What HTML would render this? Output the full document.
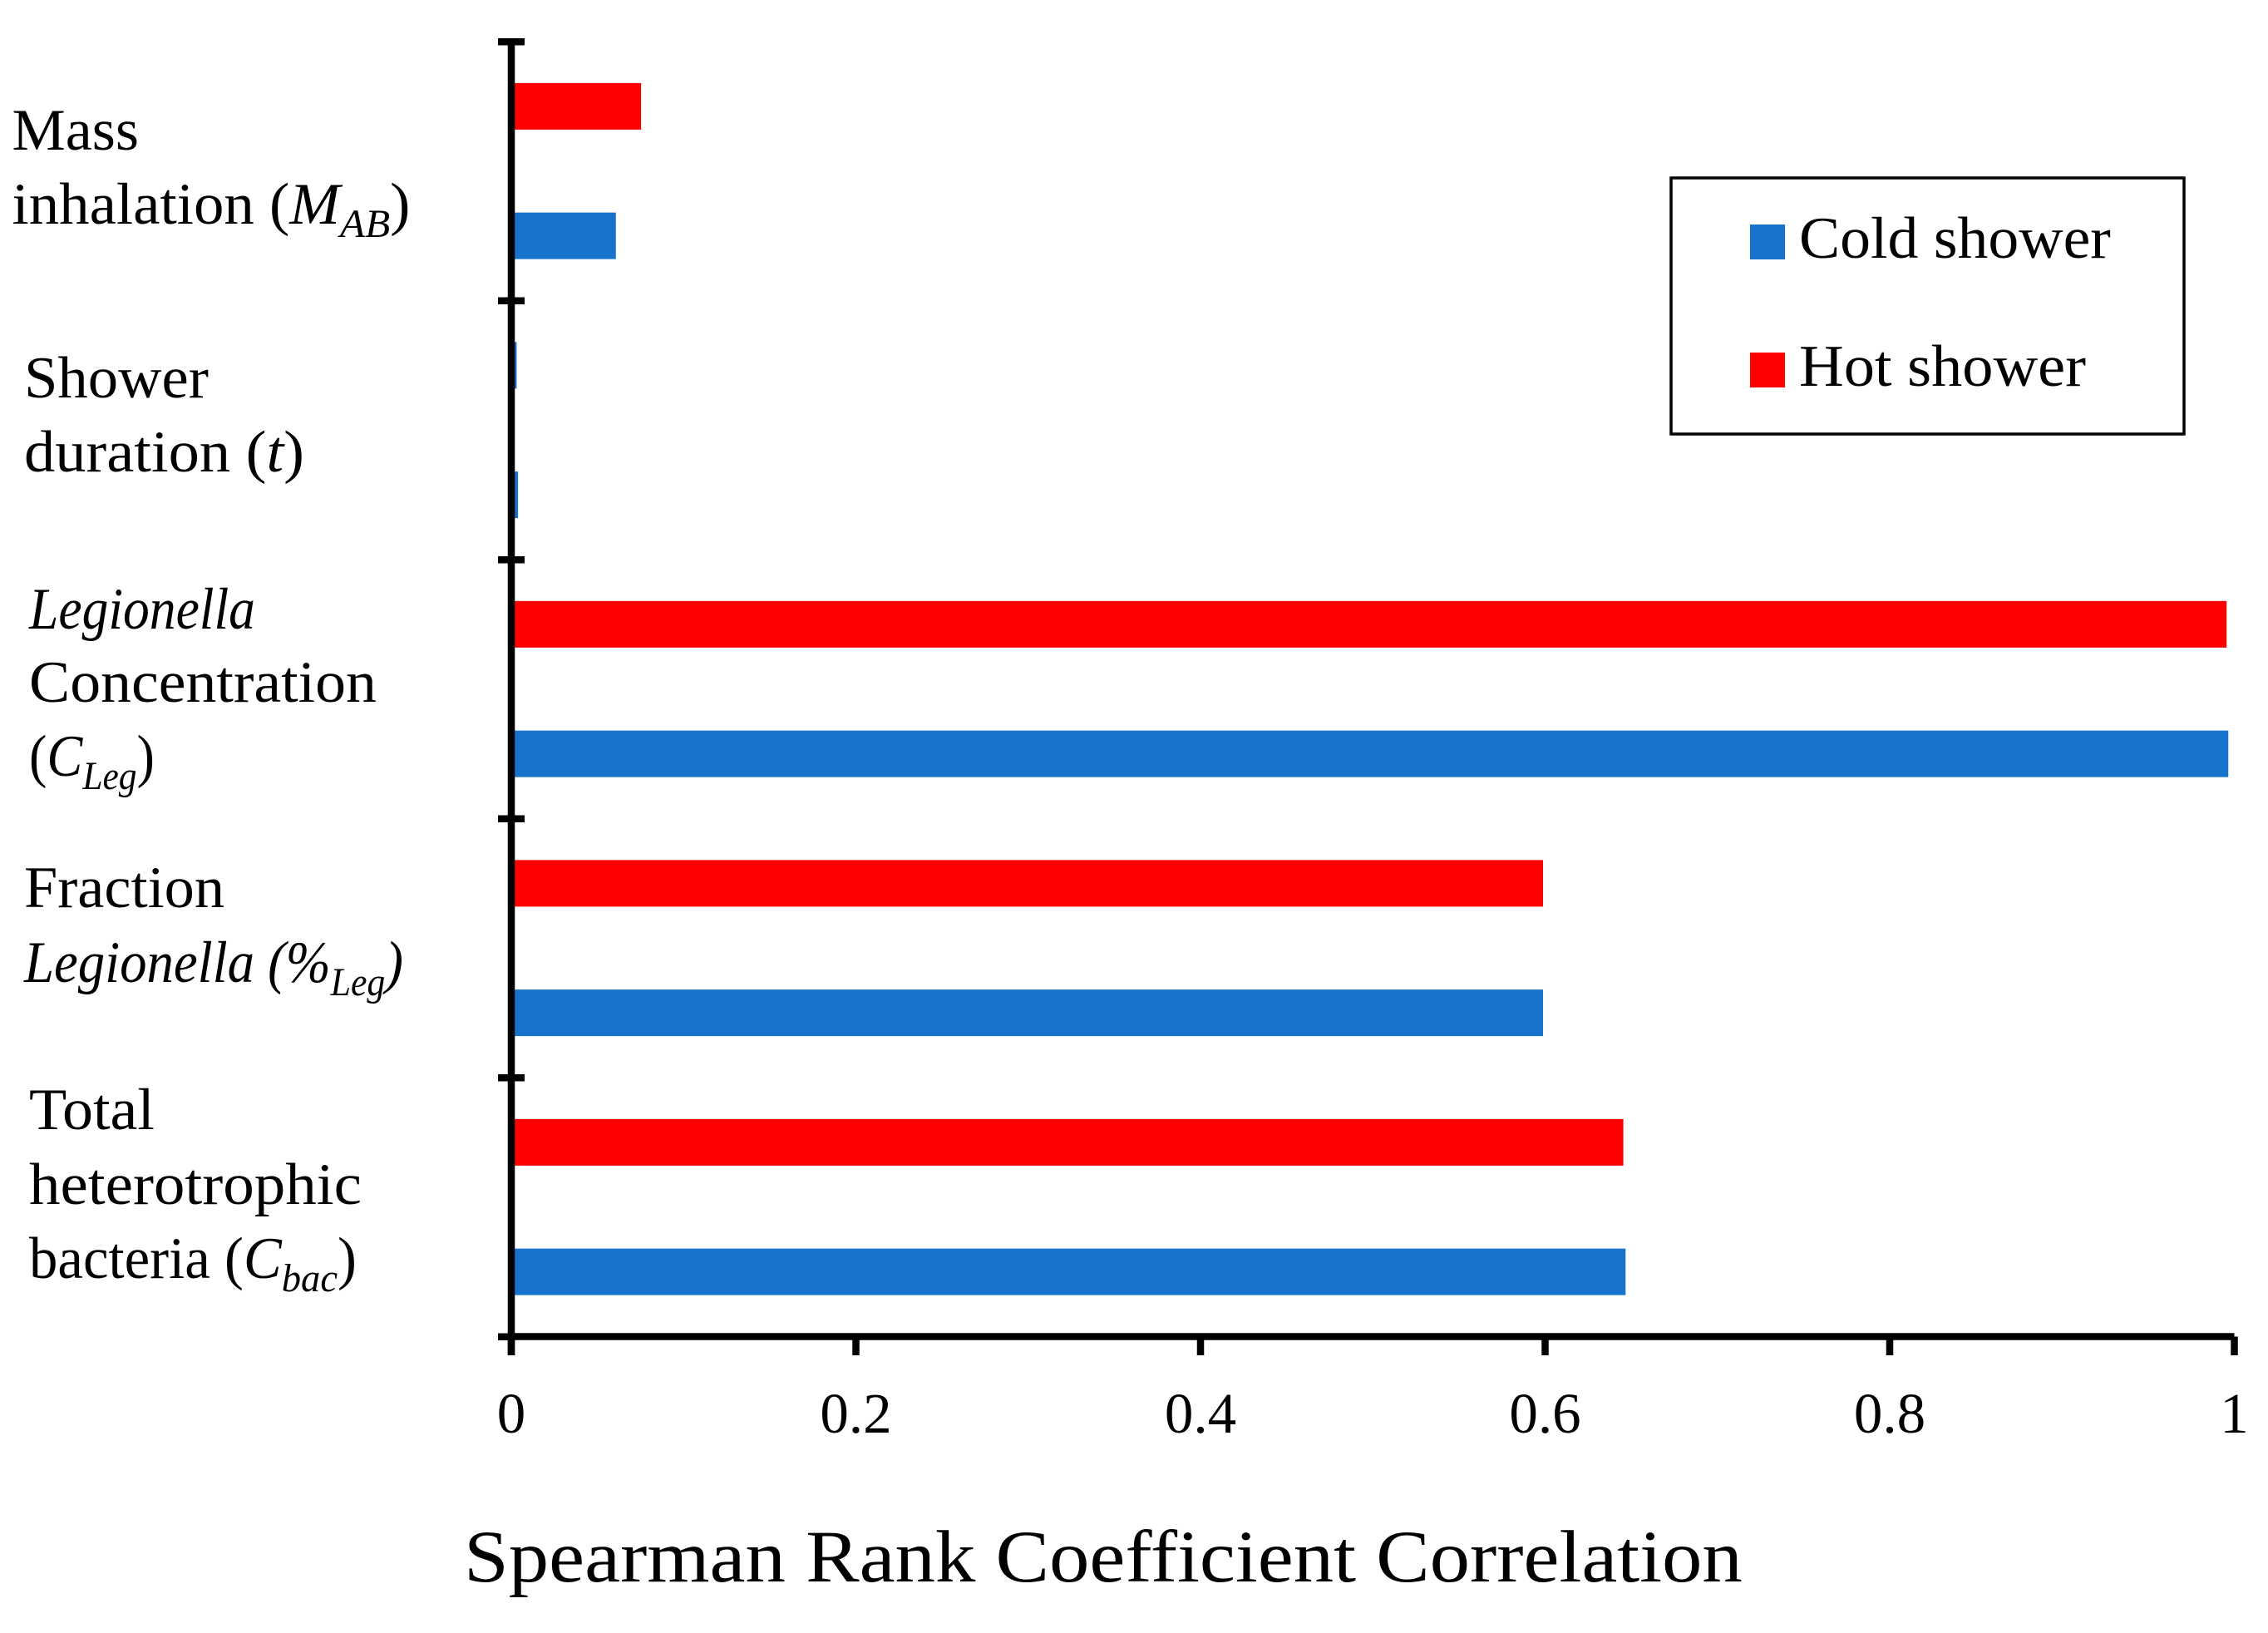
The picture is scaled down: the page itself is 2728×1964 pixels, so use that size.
<!DOCTYPE html>
<html lang="en">
<head>
<meta charset="utf-8">
<title>Spearman Rank Coefficient Correlation</title>
<style>
  html, body { margin: 0; padding: 0; background: #fff; }
  svg { display: block; }
  text { font-family: "Liberation Serif", "DejaVu Serif", serif; fill: #000; }
  .cat { font-size: 71px; }
  .sub { font-size: 48px; font-style: italic; }
  .it { font-style: italic; }
  .tick-label { font-size: 69px; }
  .legend-label { font-size: 71px; }
  .axis-title { font-size: 89px; }
</style>
</head>
<body>
<svg id="chart" xmlns="http://www.w3.org/2000/svg" width="2728" height="1964" viewBox="0 0 2728 1964">
  <rect x="0" y="0" width="2728" height="1964" fill="#ffffff"/>
  <g id="bars"></g>
  <g id="axes"></g>

  <g>
    <text class="cat fit" data-x="14.5" data-w="152.5" x="14.5" y="180">Mass</text>
    <text class="cat fit" data-x="14.5" data-w="479" x="14.5" y="269">inhalation (<tspan class="it">M</tspan><tspan class="sub" dy="16">AB</tspan><tspan dy="-16">)</tspan></text>
    <text class="cat fit" data-x="29" data-w="222" x="29" y="478">Shower</text>
    <text class="cat fit" data-x="29" data-w="337" x="29" y="567">duration (<tspan class="it">t</tspan>)</text>
    <text class="cat it fit" data-x="35" data-w="272" x="35" y="756">Legionella</text>
    <text class="cat fit" data-x="35" data-w="418" x="35" y="844">Concentration</text>
    <text class="cat fit" data-x="35" data-w="151" x="35" y="933">(<tspan class="it">C</tspan><tspan class="sub" dy="16">Leg</tspan><tspan dy="-16">)</tspan></text>
    <text class="cat fit" data-x="29" data-w="241" x="29" y="1091">Fraction</text>
    <text class="cat fit" data-x="29" data-w="456" x="29" y="1181"><tspan class="it">Legionella (%</tspan><tspan class="sub" dy="16">Leg</tspan><tspan class="it" dy="-16">)</tspan></text>
    <text class="cat fit" data-x="35" data-w="151" x="35" y="1358">Total</text>
    <text class="cat fit" data-x="35" data-w="400" x="35" y="1448">heterotrophic</text>
    <text class="cat fit" data-x="35" data-w="394" x="35" y="1537">bacteria (<tspan class="it">C</tspan><tspan class="sub" dy="16">bac</tspan><tspan dy="-16">)</tspan></text>
  </g>

  <text class="axis-title fit" data-x="558" data-w="1538" x="558" y="1902">Spearman Rank Coefficient Correlation</text>

  <g>
    <rect x="2010" y="214" width="617" height="308" fill="#ffffff" stroke="#000000" stroke-width="3.5"/>
    <rect x="2105" y="270" width="42" height="42" fill="#1873cc"/>
    <text class="legend-label fit" data-x="2164" data-w="375" x="2164" y="310">Cold shower</text>
    <rect x="2105" y="424" width="42" height="42" fill="#ff0000"/>
    <text class="legend-label fit" data-x="2164" data-w="345" x="2164" y="464">Hot shower</text>
  </g>
</svg>

<script>
// Chart data, top to bottom
const categories = ['mass-inhalation', 'shower-duration', 'legionella-concentration', 'fraction-legionella', 'total-heterotrophic-bacteria'];
const hotShower = [0.0753, 0.0031, 0.9955, 0.5988, 0.6454];
const coldShower = [0.0607, 0.0039, 0.9965, 0.5988, 0.6467];
const xTickValues = [0, 0.2, 0.4, 0.6, 0.8, 1];
const xTickLabels = ['0', '0.2', '0.4', '0.6', '0.8', '1'];
// In the source figure both bars of this category are drawn blue
const hotDrawnBlue = ['shower-duration'];

const SVG_NS = 'http://www.w3.org/2000/svg';
const plot = { left: 615, right: 2687.5, top: 50, bottom: 1607.5 };
const BLUE = '#1873cc';
const RED = '#ff0000';
const BAR_HEIGHT = 56;
const AXIS_WIDTH = 8.5;

function xScale(v) {
  return plot.left + v * (plot.right - plot.left);
}
function bandHeight() {
  return (plot.bottom - plot.top) / categories.length;
}
function bandTop(i) {
  return plot.top + i * bandHeight();
}
function make(tag, attrs, parent) {
  const el = document.createElementNS(SVG_NS, tag);
  for (const k in attrs) el.setAttribute(k, attrs[k]);
  parent.appendChild(el);
  return el;
}

const barsGroup = document.getElementById('bars');
const axesGroup = document.getElementById('axes');

categories.forEach(function (cat, i) {
  const hotCentre = bandTop(i) + bandHeight() * 0.25;
  const coldCentre = bandTop(i) + bandHeight() * 0.75;

  const hot = make('rect', {
    x: xScale(0),
    y: hotCentre - BAR_HEIGHT / 2,
    width: xScale(hotShower[i]) - xScale(0),
    height: BAR_HEIGHT,
    fill: hotDrawnBlue.includes(cat) ? BLUE : RED
  }, barsGroup);
  
  

  const cold = make('rect', {
    x: xScale(0),
    y: coldCentre - BAR_HEIGHT / 2,
    width: xScale(coldShower[i]) - xScale(0),
    height: BAR_HEIGHT,
    fill: BLUE
  }, barsGroup);
  
  
});

// Vertical axis line
const yAxis = make('rect', {
  x: plot.left - AXIS_WIDTH / 2,
  y: plot.top,
  width: AXIS_WIDTH,
  height: plot.bottom - plot.top + 22,
  fill: '#000'
}, axesGroup);



// Horizontal axis line
const xAxis = make('rect', {
  x: plot.left,
  y: plot.bottom - AXIS_WIDTH / 2,
  width: plot.right - plot.left,
  height: AXIS_WIDTH,
  fill: '#000'
}, axesGroup);



// Y ticks: one at each band boundary
for (let i = 0; i <= categories.length; i++) {
  const isLast = i === categories.length;
  const tick = make('rect', {
    x: plot.left - 16,
    y: bandTop(i) - 4,
    width: isLast ? 16 : 32,
    height: 8.5,
    fill: '#000'
  }, axesGroup);
  
  
}

// X ticks and labels
xTickValues.forEach(function (v, i) {
  const tick = make('rect', {
    x: xScale(v) - AXIS_WIDTH / 2,
    y: plot.bottom,
    width: AXIS_WIDTH,
    height: 22.5,
    fill: '#000'
  }, axesGroup);
  
  

  const label = make('text', {
    x: xScale(v),
    y: 1723,
    'text-anchor': 'middle',
    class: 'tick-label'
  }, axesGroup);
  label.textContent = xTickLabels[i];
  
  
});

// Stretch text horizontally so the substitute font fills the original width
document.querySelectorAll('.fit').forEach(function (el) {
  const x = parseFloat(el.getAttribute('data-x'));
  const w = parseFloat(el.getAttribute('data-w'));
  const s = w / el.getComputedTextLength();
  el.setAttribute('transform', 'translate(' + x + ' 0) scale(' + s + ' 1) translate(' + (-x) + ' 0)');
});
</script>
</body>
</html>
